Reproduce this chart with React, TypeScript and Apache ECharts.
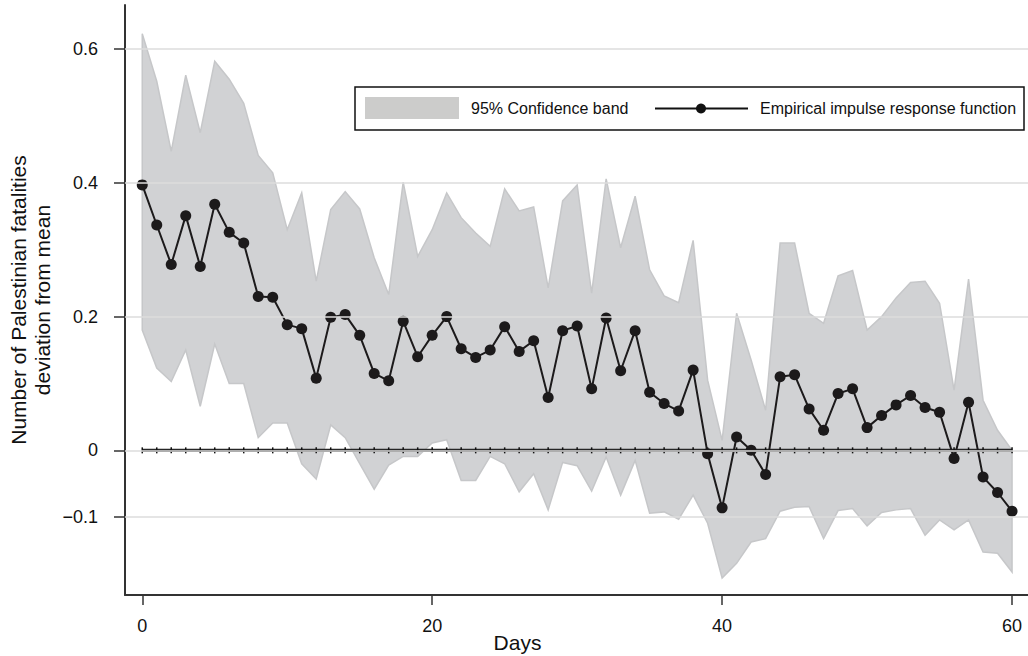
import React, { useEffect, useRef } from "react";
import * as echarts from "echarts";

const days: number[] = Array.from({ length: 61 }, (_, i) => i);

const irf: number[] = [
  0.397, 0.337, 0.278, 0.351, 0.275, 0.368, 0.326, 0.31, 0.23, 0.229,
  0.188, 0.182, 0.108, 0.199, 0.203, 0.172, 0.115, 0.104, 0.193, 0.14,
  0.172, 0.2, 0.152, 0.139, 0.15, 0.185, 0.148, 0.164, 0.079, 0.179,
  0.186, 0.092, 0.198, 0.119, 0.179, 0.087, 0.07, 0.059, 0.12, -0.005,
  -0.086, 0.02, 0.0, -0.036, 0.11, 0.113, 0.062, 0.03, 0.085, 0.092,
  0.034, 0.052, 0.068, 0.082, 0.064, 0.057, -0.012, 0.072, -0.04, -0.063, -0.091,
];

const upper: number[] = [
  0.623, 0.552, 0.447, 0.561, 0.475, 0.582, 0.555, 0.519, 0.441, 0.415,
  0.33, 0.385, 0.253, 0.36, 0.387, 0.361, 0.288, 0.233, 0.401, 0.29,
  0.33, 0.385, 0.348, 0.325, 0.305, 0.391, 0.358, 0.364, 0.243, 0.373,
  0.397, 0.235, 0.406, 0.303, 0.38, 0.27, 0.231, 0.221, 0.314, 0.105,
  0.015, 0.205, 0.135, 0.06, 0.31, 0.31, 0.205, 0.19, 0.261, 0.269,
  0.18, 0.2, 0.228, 0.251, 0.253, 0.22, 0.09, 0.256, 0.075, 0.03, 0.0,
];

const lower: number[] = [
  0.18, 0.123, 0.103, 0.15, 0.066, 0.159, 0.1, 0.1, 0.019, 0.041,
  0.041, -0.02, -0.043, 0.038, 0.019, -0.02, -0.058, -0.022, -0.009, -0.009,
  0.011, 0.016, -0.045, -0.045, -0.009, -0.02, -0.062, -0.035, -0.089, -0.018,
  -0.023, -0.061, -0.01, -0.067, -0.015, -0.094, -0.092, -0.103, -0.067, -0.109,
  -0.191, -0.169, -0.137, -0.132, -0.091, -0.085, -0.084, -0.132, -0.09, -0.087,
  -0.113, -0.093, -0.089, -0.087, -0.127, -0.104, -0.119, -0.104, -0.152, -0.154, -0.182,
];

const yTicks: number[] = [-0.1, 0, 0.2, 0.4, 0.6];
const xTicks: number[] = [0, 20, 40, 60];
const Y_MIN = -0.2163;
const Y_MAX = 0.666;
const X_MIN = -1.19;
const X_MAX = 61.1;

const FONT = '"Liberation Sans", Arial, Helvetica, sans-serif';

export default function App() {
  const ref = useRef<HTMLDivElement>(null);

  useEffect(() => {
    if (!ref.current) return;
    const chart = echarts.init(ref.current, undefined, { renderer: "svg" });

    const fmtY = (v: number) => {
      if (Math.abs(v) < 1e-9) return "0";
      const s = String(Math.round(Math.abs(v) * 10) / 10);
      return v < 0 ? "\u2212" + s : s;
    };

    const option: any = {
      animation: false,
      backgroundColor: "#ffffff",
      textStyle: { fontFamily: FONT },
      grid: {
        left: 125,
        right: 0,
        top: 5,
        bottom: 61,
        containLabel: false,
        outerBoundsMode: "none",
      },
      xAxis: {
        type: "value",
        min: X_MIN,
        max: X_MAX,
        name: "Days",
        nameLocation: "middle",
        nameGap: 37,
        nameMoveOverlap: false,
        nameTextStyle: {
          fontSize: 21,
          color: "#111",
          fontFamily: FONT,
          padding: [0, 118, 0, 0],
        },
        axisLine: { show: true, onZero: false, lineStyle: { color: "#333", width: 2 } },
        axisTick: {
          show: true,
          customValues: xTicks,
          length: 10,
          lineStyle: { color: "#333", width: 1.5 },
        },
        axisLabel: {
          customValues: xTicks,
          fontSize: 18,
          color: "#111",
          margin: 22,
          fontFamily: FONT,
        },
        splitLine: { show: false },
      },
      yAxis: {
        type: "value",
        min: Y_MIN,
        max: Y_MAX,
        name: "Number of Palestinian fatalities\ndeviation from mean",
        nameLocation: "middle",
        nameRotate: 90,
        nameGap: 95,
        nameMoveOverlap: false,
        nameTextStyle: {
          fontSize: 21,
          lineHeight: 24,
          color: "#111",
          fontFamily: FONT,
          align: "center",
          verticalAlign: "middle",
        },
        axisLine: { show: true, onZero: false, lineStyle: { color: "#333", width: 2 } },
        axisTick: {
          show: true,
          customValues: yTicks,
          length: 11,
          lineStyle: { color: "#333", width: 1.5 },
        },
        axisLabel: {
          customValues: yTicks,
          fontSize: 18,
          color: "#111",
          margin: 27,
          fontFamily: FONT,
          formatter: (v: number) => fmtY(v),
        },
        splitLine: { show: false },
      },
      series: [
        {
          name: "grid",
          type: "line",
          data: [[0, 0]],
          symbol: "none",
          silent: true,
          z: 1,
          lineStyle: { opacity: 0 },
          markLine: {
            silent: true,
            symbol: "none",
            label: { show: false },
            lineStyle: { color: "#dcdcdc", width: 1.5, type: "solid" },
            data: [...yTicks, Y_MAX].map((v) => ({ yAxis: v })),
          },
        },
        {
          name: "95% Confidence band",
          type: "custom",
          z: 2,
          silent: true,
          data: days.map((d, i) => [d, lower[i], upper[i]]),
          encode: { x: 0, y: [1, 2] },
          renderItem: (params: any, api: any) => {
            if (params.dataIndex !== 0) return null;
            const pts: number[][] = [];
            for (let i = 0; i < days.length; i++) pts.push(api.coord([days[i], upper[i]]));
            for (let i = days.length - 1; i >= 0; i--) pts.push(api.coord([days[i], lower[i]]));
            return {
              type: "polygon",
              shape: { points: pts },
              style: { fill: "#d1d2d4", stroke: "#c6c7c9", lineWidth: 1.5 },
            };
          },
        },
        {
          name: "zero",
          type: "line",
          z: 3,
          silent: true,
          data: days.map((d) => [d, 0]),
          symbol: "none",
          lineStyle: { color: "#262626", width: 3.2, cap: "butt" },
        },
        {
          name: "zeroTicks",
          type: "scatter",
          z: 3.5,
          silent: true,
          data: days.map((d) => [d, 0]),
          symbol: "rect",
          symbolSize: [1.5, 6],
          itemStyle: { color: "#111", opacity: 1, borderWidth: 0 },
        },
        {
          name: "Empirical impulse response function",
          type: "line",
          z: 4,
          data: days.map((d, i) => [d, irf[i]]),
          symbol: "circle",
          symbolSize: 11,
          itemStyle: { color: "#1c1a1b", borderWidth: 0 },
          lineStyle: { color: "#1c1a1b", width: 2 },
        },
      ],
      graphic: [
        {
          type: "rect",
          shape: { x: 355, y: 87, width: 669, height: 43 },
          style: { fill: "#ffffff", stroke: "#111", lineWidth: 1.5 },
          z: 100,
        },
        {
          type: "rect",
          shape: { x: 365, y: 97, width: 94, height: 22 },
          style: { fill: "#cccccb" },
          z: 101,
        },
        {
          type: "text",
          x: 471,
          y: 108.5,
          style: {
            text: "95% Confidence band",
            font: `16px ${FONT}`,
            fill: "#111",
            verticalAlign: "middle",
            align: "left",
          },
          z: 101,
        },
        {
          type: "line",
          shape: { x1: 655, y1: 108.5, x2: 748, y2: 108.5 },
          style: { stroke: "#111", lineWidth: 2 },
          z: 101,
        },
        {
          type: "circle",
          shape: { cx: 701, cy: 108.5, r: 5 },
          style: { fill: "#111" },
          z: 102,
        },
        {
          type: "text",
          x: 760,
          y: 108.5,
          style: {
            text: "Empirical impulse response function",
            font: `16px ${FONT}`,
            fill: "#111",
            verticalAlign: "middle",
            align: "left",
          },
          z: 101,
        },
      ],
    };

    chart.setOption(option);
    return () => chart.dispose();
  }, []);

  return (
    <div
      ref={ref}
      style={{ position: "fixed", left: 0, top: 0, width: 1028, height: 656, background: "#fff" }}
    />
  );
}
